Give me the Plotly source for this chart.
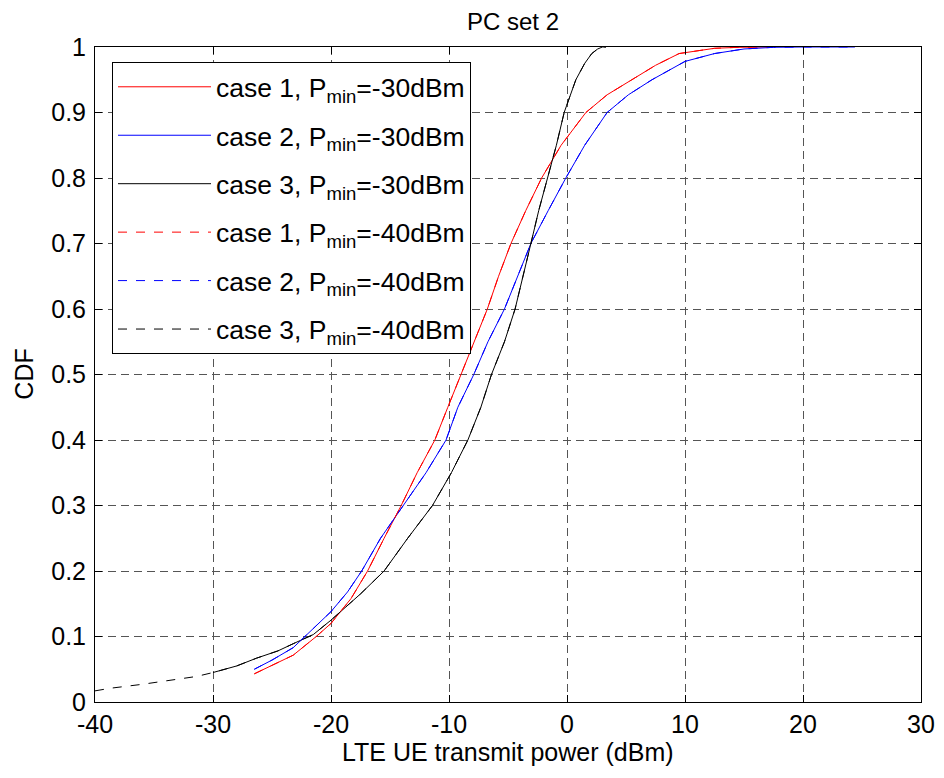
import plotly.graph_objects as go

# ---- data ----
# case 1 (red)
case1_x = [-26.5, -25.0, -23.2, -21.25, -20.0, -18.3, -16.9, -15.5, -14.05, -12.7, -11.2, -10.1, -8.98, -7.85, -6.75, -5.8, -4.75, -3.5, -2.15, -0.5, 1.6, 3.4, 5.5, 7.5, 9.5, 12.5, 14.5, 17.0]
case1_y = [0.043, 0.056, 0.0715, 0.10, 0.12, 0.158, 0.20, 0.25, 0.30, 0.35, 0.40, 0.45, 0.50, 0.55, 0.60, 0.65, 0.70, 0.75, 0.80, 0.85, 0.90, 0.927, 0.95, 0.972, 0.99, 0.998, 0.9995, 1.0]
# case 2 (blue)
case2_x = [-26.5, -25.0, -23.2, -22.2, -20.0, -18.6, -17.4, -15.8, -13.9, -11.95, -10.25, -9.25, -7.9, -6.7, -5.3, -4.2, -3.06, -1.6, -0.1, 1.5, 3.4, 5.2, 7.2, 10.0, 12.5, 15.0, 17.5, 20.0, 24.4]
case2_y = [0.05, 0.064, 0.083, 0.10, 0.138, 0.168, 0.20, 0.25, 0.30, 0.35, 0.40, 0.45, 0.50, 0.55, 0.60, 0.65, 0.70, 0.75, 0.80, 0.85, 0.90, 0.927, 0.95, 0.978, 0.99, 0.997, 0.9995, 1.0, 1.0]
# case 3 (black), Pmin = -30 dBm
case3_x = [-30.0, -28.0, -26.3, -24.5, -23.2, -21.5, -20.0, -17.5, -15.5, -13.5, -11.4, -9.8, -8.4, -7.3, -6.4, -5.3, -4.4, -3.7, -3.06, -2.4, -1.65, -0.9, -0.24, 0.75, 1.5, 2.1, 2.6, 3.0, 3.3]
case3_y = [0.045, 0.055, 0.067, 0.078, 0.089, 0.103, 0.125, 0.165, 0.20, 0.25, 0.30, 0.35, 0.40, 0.45, 0.50, 0.55, 0.60, 0.65, 0.70, 0.75, 0.80, 0.85, 0.90, 0.95, 0.975, 0.99, 0.997, 1.0, 1.0]
# case 3 (black), Pmin = -40 dBm: extra low tail below -30 dBm
case3_tail_x = [-40.0, -38.7, -36.0, -33.4, -31.4]
case3_tail_y = [0.017, 0.021, 0.027, 0.0335, 0.039]

names = ["case 1, P<sub>min</sub>=-30dBm", "case 2, P<sub>min</sub>=-30dBm", "case 3, P<sub>min</sub>=-30dBm",
         "case 1, P<sub>min</sub>=-40dBm", "case 2, P<sub>min</sub>=-40dBm", "case 3, P<sub>min</sub>=-40dBm"]

x_ticks = [-40, -30, -20, -10, 0, 10, 20, 30]
x_tick_text = ["-40", "-30", "-20", "-10", "0", "10", "20", "30"]
y_ticks = [0, 0.1, 0.2, 0.3, 0.4, 0.5, 0.6, 0.7, 0.8, 0.9, 1.0]
y_tick_text = ["0", "0.1", "0.2", "0.3", "0.4", "0.5", "0.6", "0.7", "0.8", "0.9", "1"]

series = [
    (case1_x, case1_y, "#ff0000", "solid"),
    (case2_x, case2_y, "#0000ff", "solid"),
    (case3_x, case3_y, "#000000", "solid"),
    (case1_x, case1_y, "#ff0000", "dash"),
    (case2_x, case2_y, "#0000ff", "dash"),
    (case3_tail_x + case3_x, case3_tail_y + case3_y, "#000000", "dash"),
]

fig = go.Figure()
for i, (xs, ys, col, dash) in enumerate(series):
    fig.add_trace(go.Scatter(
        x=xs, y=ys, mode="lines", name=names[i],
        line=dict(color=col, width=1, dash=dash),
        legendgroup=str(i),
    ))

FONT = "Liberation Sans, Arial, Helvetica, sans-serif"
axis_common = dict(
    showline=True, linecolor="black", linewidth=1, mirror="ticks",
    ticks="inside", ticklen=7, tickcolor="black", tickwidth=1,
    showgrid=True, gridcolor="#555555", gridwidth=1, griddash="8px,5px",
    zeroline=False, automargin=False,
    tickfont=dict(size=25, color="black", family=FONT),
)

# the page body adds an 8px offset, so the figure is 8px smaller than the window
fig.update_layout(
    width=936, height=770,
    paper_bgcolor="white", plot_bgcolor="white",
    margin=dict(l=87, r=23, t=39, b=76),
    font=dict(family=FONT, color="black", size=25),
    title=dict(text="PC set 2", x=0.5395, xanchor="center", y=0.982, yanchor="middle",
               font=dict(size=24, family=FONT, color="black")),
    xaxis=dict(range=[-40, 30], tickvals=x_ticks, ticktext=x_tick_text, **axis_common),
    yaxis=dict(range=[0, 1], tickvals=y_ticks, ticktext=y_tick_text,
               ticklabelstandoff=3, **axis_common),
    legend=dict(x=0.0206, y=0.977, xanchor="left", yanchor="top",
                bgcolor="white", bordercolor="black", borderwidth=1,
                font=dict(size=26.5, family=FONT, color="black"),
                tracegroupgap=11, itemwidth=93),
    showlegend=True,
    annotations=[
        dict(text="LTE UE transmit power (dBm)", xref="paper", yref="paper",
             x=0.5, y=-0.052, xanchor="center", yanchor="top", showarrow=False,
             font=dict(size=25, family=FONT, color="black")),
        dict(text="CDF", xref="paper", yref="paper", textangle=-90,
             x=-0.087, y=0.5, xanchor="center", yanchor="middle", showarrow=False,
             font=dict(size=25, family=FONT, color="black")),
    ],
)

fig.write_html("out.html")
